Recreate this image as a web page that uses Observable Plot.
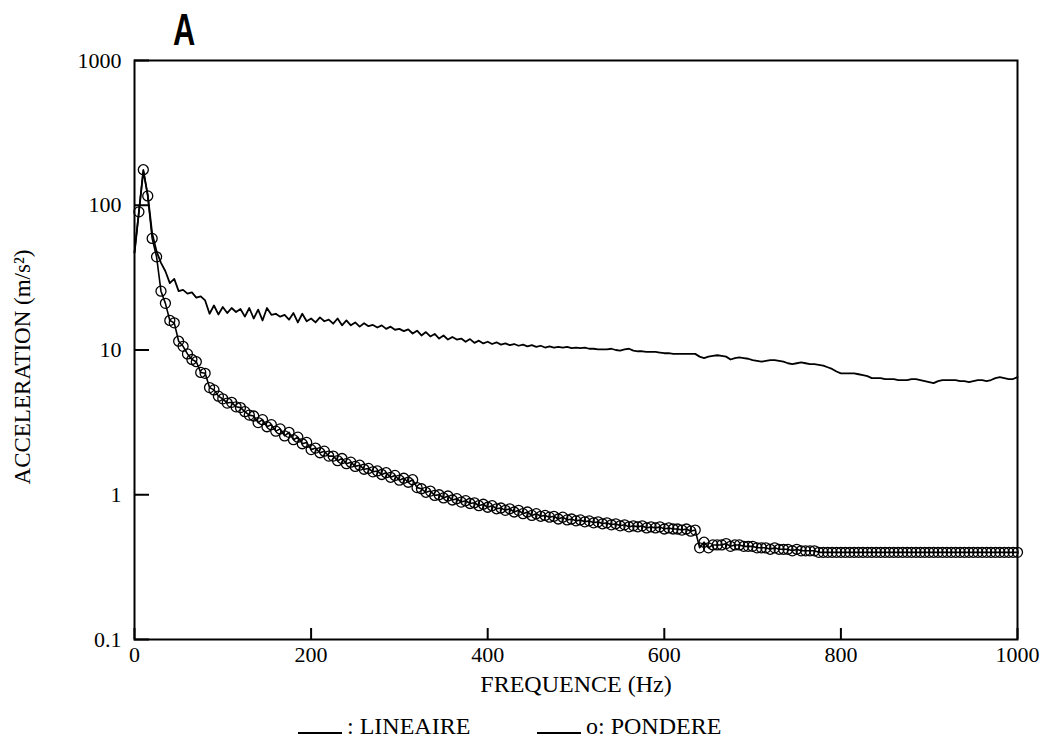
<!DOCTYPE html>
<html>
<head>
<meta charset="utf-8">
<script src="https://cdn.jsdelivr.net/npm/d3@7"></script>
<script src="https://cdn.jsdelivr.net/npm/@observablehq/plot@0.6"></script>
<style>
  body { margin: 0; background: #fff; }
  #wrap { position: relative; width: 1043px; height: 738px; overflow: hidden; }
  #title { position: absolute; left: 173px; top: 8px; font: bold 44px "Liberation Sans", sans-serif; line-height: 1; transform: scaleX(0.7); transform-origin: left top; color: #000; }
  .item { position: absolute; top: 713px; font: 24px "Liberation Serif", serif; color: #000; white-space: nowrap; line-height: 27px; }
  .sw { display: inline-block; width: 44px; height: 0; border-bottom: 2px solid #000; vertical-align: baseline; margin-right: 5px; }
</style>
</head>
<body>
<div id="wrap">
  <div id="chart"></div>
  <div id="title">A</div>
</div>
<script>
// ---- data ----
const titleText = "A";
const xLabel = "FREQUENCE (Hz)";
const yLabel = "ACCELERATION (m/s²)";
const legendLabels = [": LINEAIRE", "o: PONDERE"];
const xTicks = [0, 200, 400, 600, 800, 1000];
const yTicks = [0.1, 1, 10, 100, 1000];

// frequency grid, 5 Hz steps from 0 to 1000 Hz
const freq = d3.range(0, 1001, 5);

// LINEAIRE (plain line), one value per 5 Hz
const lineaire = [
  47, 90, 172, 118, 64, 48, 40, 35, 29, 31, 25.5, 26, 24.5, 25, 23, 23.5, 22, 17.8, 20.3, 17.6,
  19.8, 18.0, 19.5, 18.3, 19.2, 17.0, 19.5, 16.5, 19.0, 16.0, 19.5, 17.5, 17.8, 17.0, 17.5, 16.2, 18.0, 15.5, 17.8, 15.8,
  16.5, 15.5, 16.8, 15.8, 16.2, 15.2, 16.5, 14.8, 16.0, 14.8, 15.5, 14.5, 15.3, 14.6, 14.9, 14.3, 14.8, 14.0, 14.5, 13.8,
  14.0, 13.5, 13.9, 13.0, 13.6, 12.6, 13.3, 12.4, 12.9, 12.0, 12.6, 11.8, 12.3, 11.8, 12.0, 11.4, 11.9, 11.2, 11.6, 11.1,
  11.4, 11.0, 11.3, 10.9, 11.1, 10.8, 11.0, 10.7, 10.9, 10.6, 10.8, 10.5, 10.7, 10.4, 10.6, 10.4, 10.5, 10.4, 10.5, 10.3,
  10.4, 10.3, 10.4, 10.2, 10.2, 10.1, 10.1, 10.1, 10.2, 10.0, 9.9, 10.1, 10.2, 9.9, 9.8, 9.8, 9.7, 9.7, 9.7, 9.6,
  9.5, 9.5, 9.4, 9.4, 9.4, 9.4, 9.4, 9.4, 9.0, 8.8, 9.0, 9.1, 9.2, 9.1, 9.0, 8.6, 8.8, 8.9, 8.8, 8.7,
  8.5, 8.4, 8.3, 8.4, 8.5, 8.5, 8.4, 8.3, 8.1, 8.0, 8.1, 8.2, 8.1, 8.0, 8.0, 7.9, 7.8, 7.6, 7.4, 7.1,
  6.9, 6.9, 6.9, 6.9, 6.8, 6.7, 6.6, 6.4, 6.4, 6.4, 6.3, 6.3, 6.3, 6.2, 6.2, 6.2, 6.3, 6.3, 6.2, 6.1,
  6.0, 5.9, 6.1, 6.2, 6.2, 6.2, 6.2, 6.1, 6.1, 6.0, 6.1, 6.2, 6.2, 6.1, 6.2, 6.4, 6.5, 6.4, 6.3, 6.3, 6.5
];

// PONDERE (line with circles), one value per 5 Hz
const pondere = [
  47, 90, 176, 116, 59, 44, 25.5, 21, 16, 15.4, 11.5, 10.6, 9.4, 8.6, 8.3, 7.0, 6.9, 5.5, 5.3, 4.8,
  4.6, 4.3, 4.35, 4.05, 4.0, 3.75, 3.55, 3.5, 3.15, 3.3, 2.95, 3.05, 2.75, 2.85, 2.55, 2.7, 2.4, 2.5, 2.25, 2.3,
  2.05, 2.1, 1.95, 2.0, 1.85, 1.85, 1.72, 1.78, 1.64, 1.68, 1.57, 1.6, 1.5, 1.52, 1.44, 1.46, 1.38, 1.42, 1.32, 1.36,
  1.26, 1.3, 1.22, 1.27, 1.12, 1.1, 1.04, 1.06, 0.99, 1.0, 0.95, 0.98, 0.92, 0.94, 0.89, 0.91, 0.87, 0.88, 0.84, 0.86,
  0.82, 0.84, 0.8, 0.81, 0.78, 0.8, 0.76, 0.78, 0.74, 0.76, 0.72, 0.74, 0.71, 0.72, 0.7, 0.71, 0.68, 0.7, 0.67, 0.68,
  0.66, 0.67, 0.65, 0.66, 0.64, 0.65, 0.63, 0.64, 0.62, 0.63, 0.61, 0.62, 0.6, 0.61, 0.6, 0.61, 0.59, 0.6, 0.59, 0.6,
  0.58, 0.59, 0.58, 0.58, 0.57, 0.58, 0.56, 0.57, 0.43, 0.47, 0.43, 0.45, 0.45, 0.45, 0.46, 0.44, 0.45, 0.45, 0.44, 0.44,
  0.44, 0.43, 0.43, 0.43, 0.42, 0.43, 0.42, 0.42, 0.42, 0.41, 0.42, 0.41, 0.41, 0.41, 0.41, 0.4, 0.4, 0.4, 0.4, 0.4,
  0.4, 0.4, 0.4, 0.4, 0.4, 0.4, 0.4, 0.4, 0.4, 0.4, 0.4, 0.4, 0.4, 0.4, 0.4, 0.4, 0.4, 0.4, 0.4, 0.4,
  0.4, 0.4, 0.4, 0.4, 0.4, 0.4, 0.4, 0.4, 0.4, 0.4, 0.4, 0.4, 0.4, 0.4, 0.4, 0.4, 0.4, 0.4, 0.4, 0.4, 0.4
];

// ---- build tables ----
const linData = freq.map((f, i) => ({f, v: lineaire[i]}));
const ponData = freq.map((f, i) => ({f, v: pondere[i]}));

const chart = Plot.plot({
  width: 1043,
  height: 712,
  marginLeft: 134,
  marginRight: 26,
  marginTop: 60,
  marginBottom: 73,
  style: {fontFamily: "'Liberation Serif', serif", fontSize: "22px", color: "#000", background: "#fff", overflow: "visible"},
  x: {domain: [0, 1000]},
  y: {type: "log", domain: [0.1, 1000]},
  marks: [
    Plot.line(linData, {x: "f", y: "v", stroke: "#000", strokeWidth: 1.8}),
    Plot.line(ponData, {x: "f", y: "v", stroke: "#000", strokeWidth: 1.6}),
    Plot.dot(ponData.filter(d => d.f > 0), {x: "f", y: "v", r: 5, stroke: "#000", strokeWidth: 1.3, fill: "none"}),
    Plot.frame({stroke: "#000", strokeWidth: 2}),
    Plot.axisX(xTicks, {tickSize: -11, strokeWidth: 2, fill: "none", label: null}),
    Plot.axisX(xTicks, {tickSize: 0, tickPadding: 7, tickFormat: d => String(d), fill: "#000", label: null}),
    Plot.axisY(yTicks, {tickSize: -15, strokeWidth: 2, fill: "none", label: null}),
    Plot.axisY(yTicks, {tickSize: 0, tickPadding: 13, tickFormat: d => String(d), fill: "#000", label: null}),
    Plot.text([xLabel], {frameAnchor: "bottom", textAnchor: "middle", dy: 52, fontSize: 24, fill: "#000"}),
    Plot.text([yLabel], {frameAnchor: "left", textAnchor: "middle", rotate: -90, dx: -112, dy: 17, fontSize: 23, fill: "#000"})
  ]
});
document.getElementById("chart").appendChild(chart);

document.getElementById("title").textContent = titleText;
const wrap = document.getElementById("wrap");
const legendLefts = [298, 537];
legendLabels.forEach((lab, i) => {
  const item = document.createElement("div");
  item.className = "item";
  item.style.left = legendLefts[i] + "px";
  const sw = document.createElement("span");
  sw.className = "sw";
  item.appendChild(sw);
  item.appendChild(document.createTextNode(lab));
  wrap.appendChild(item);
});
</script>
</body>
</html>
